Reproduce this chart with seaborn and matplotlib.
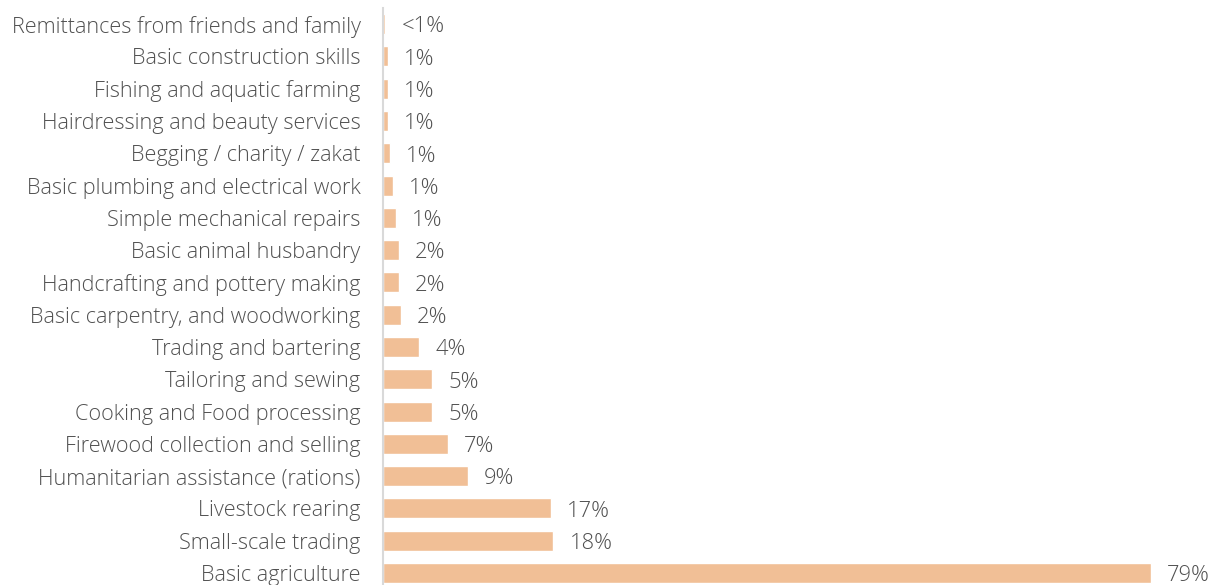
import matplotlib
matplotlib.use("Agg")
import matplotlib.pyplot as plt
import seaborn as sns
import pandas as pd

categories = [
    "Remittances from friends and family",
    "Basic construction skills",
    "Fishing and aquatic farming",
    "Hairdressing and beauty services",
    "Begging / charity / zakat",
    "Basic plumbing and electrical work",
    "Simple mechanical repairs",
    "Basic animal husbandry",
    "Handcrafting and pottery making",
    "Basic carpentry, and woodworking",
    "Trading and bartering",
    "Tailoring and sewing",
    "Cooking and Food processing",
    "Firewood collection and selling",
    "Humanitarian assistance (rations)",
    "Livestock rearing",
    "Small-scale trading",
    "Basic agriculture",
]
values = [0.2, 0.45, 0.45, 0.45, 0.7, 1.0, 1.25, 1.55, 1.55, 1.8,
          3.7, 5.0, 5.0, 6.6, 8.7, 17.2, 17.5, 79.0]
value_labels = ["<1%", "1%", "1%", "1%", "1%", "1%", "1%", "2%", "2%", "2%",
                "4%", "5%", "5%", "7%", "9%", "17%", "18%", "79%"]

df = pd.DataFrame({"category": categories, "value": values})

sns.set_theme(style="white")
plt.rcParams["font.family"] = ["Open Sans", "DejaVu Sans"]

W, H = 1211, 585
fig = plt.figure(figsize=(W / 100, H / 100), dpi=100)
x0 = 383.5
ax = fig.add_axes([x0 / W, 0, 1 - x0 / W, (H - 8) / H])

sns.barplot(data=df, y="category", x="value", orient="h", color="#F1BF96",
            saturation=1, width=0.62, ax=ax)

px_per_unit = (1150.7 - x0) / 79.0
ax.set_xlim(0, (W - x0) / px_per_unit)
ax.set_ylim(17.37, -0.5)

for i, (v, lab) in enumerate(zip(values, value_labels)):
    ax.annotate(lab, xy=(v, i), xytext=(11.5, -2.0), textcoords="offset points",
                ha="left", va="center", fontsize=15.8, color="#505050",
                fontweight="light", annotation_clip=False)

ax.set_xlabel("")
ax.set_ylabel("")
ax.set_xticks([])
ax.tick_params(axis="y", length=0, pad=16.5, labelsize=15.6, labelcolor="#505050")
for t in ax.get_yticklabels():
    t.set_fontweight("light")
for s in ["top", "right", "bottom"]:
    ax.spines[s].set_visible(False)
ax.spines["left"].set_color("#D9D9D9")
ax.spines["left"].set_linewidth(1.5)

fig.savefig("out.png", dpi=100)
